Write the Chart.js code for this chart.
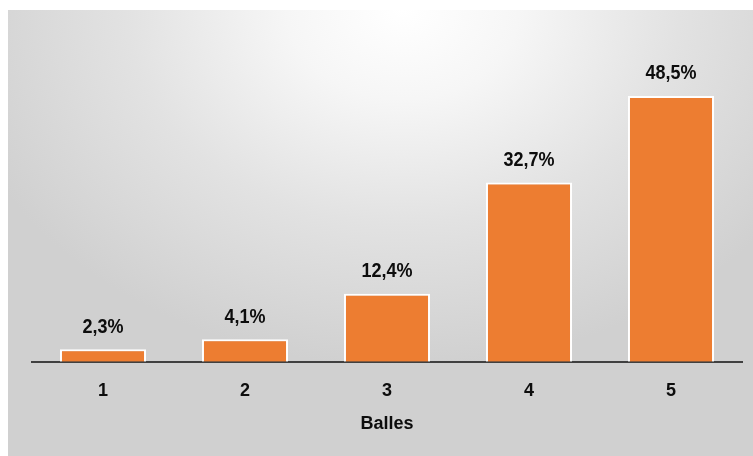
<!DOCTYPE html>
<html>
<head>
<meta charset="utf-8">
<script src="https://cdn.jsdelivr.net/npm/chart.js@4.4.1/dist/chart.umd.min.js"></script>
<style>
  html, body { margin: 0; padding: 0; background: #fff; }
  #panneau {
    position: absolute; left: 8px; top: 10px; width: 745px; height: 446px;
    background: radial-gradient(ellipse 62% 80% at 53% 0%, #ffffff 0%, #f6f6f6 25%, #e2e2e2 60%, #d0d0d0 100%);
  }
  #graf { position: absolute; left: 0; top: 0; }
</style>
</head>
<body>
<div id="panneau"></div>
<canvas id="graf" width="753" height="456"></canvas>
<script>
// Répartition des réponses par nombre de balles
var categories = ['1', '2', '3', '4', '5'];
var pourcentages = [2.3, 4.1, 12.4, 32.7, 48.5];
var titreAxe = 'Balles';

var police = "'Liberation Sans', Arial, sans-serif";

// étiquettes de valeur au-dessus des barres (virgule décimale), un peu étirées en hauteur
var etiquettes = {
    id: 'etiquettes',
    afterDatasetsDraw: function(chart) {
        var ctx = chart.ctx;
        var meta = chart.getDatasetMeta(0);
        meta.data.forEach(function(barre, i) {
            var txt = pourcentages[i].toFixed(1).replace('.', ',') + '%';
            ctx.save();
            ctx.translate(barre.x, barre.y - 12);
            ctx.scale(1, 1.15);
            ctx.font = 'bold 18px ' + police;
            ctx.fillStyle = '#0d0d0d';
            ctx.textAlign = 'center';
            ctx.textBaseline = 'bottom';
            ctx.fillText(txt, 0, 0);
            ctx.restore();
        });
    }
};

var graf = new Chart(document.getElementById('graf'), {
    type: 'bar',
    data: {
        labels: categories,
        datasets: [{
            data: pourcentages,
            backgroundColor: '#ED7D31',
            borderColor: '#ffffff',
            borderWidth: 2,
            borderSkipped: 'bottom',
            categoryPercentage: 0.606,
            barPercentage: 1
        }]
    },
    options: {
        responsive: false,
        animation: false,
        devicePixelRatio: 1,
        layout: { padding: { left: 32, right: 11, top: 33, bottom: 17 } },
        plugins: { legend: { display: false }, tooltip: { enabled: false } },
        scales: {
            y: { display: false, min: 0, max: 60 },
            x: {
                grid: { display: false, drawTicks: false },
                border: { color: '#404040', width: 2 },
                ticks: { color: '#0d0d0d', padding: 18, font: { family: police, size: 18, weight: 'bold' } },
                title: { display: true, text: titreAxe, color: '#0d0d0d', padding: { top: -6 }, font: { family: police, size: 18, weight: 'bold' } }
            }
        }
    },
    plugins: [etiquettes]
});
</script>
</body>
</html>
